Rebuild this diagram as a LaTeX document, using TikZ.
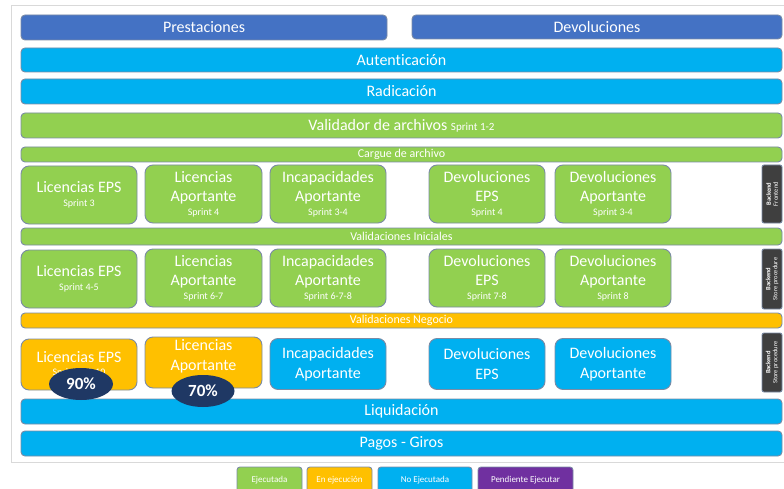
\documentclass[tikz,border=0pt]{standalone}
\usepackage{fontspec}
\setmainfont[Ligatures=NoCommon]{Carlito}
\usetikzlibrary{shapes.geometric}
\definecolor{tituloazul}{HTML}{4472C4}
\definecolor{noejec}{HTML}{00B0F0}
\definecolor{ejec}{HTML}{92D050}
\definecolor{enejec}{HTML}{FFC000}
\definecolor{pendiente}{HTML}{7030A0}
\definecolor{marino}{HTML}{1F3864}
\definecolor{borde}{HTML}{7B8BA5}
\definecolor{etiqueta}{HTML}{3F3F3F}
\newcommand{\sprintfont}{\fontsize{10}{12}\selectfont}

\begin{document}
\begin{tikzpicture}[x=1pt, y=-1pt, font=\fontsize{16}{19.5}\selectfont,
  bar/.style={draw=borde, line width=0.9pt, rounded corners=4pt, fill=#1,
              text=white, minimum width=761pt, minimum height=25pt,
              inner sep=0pt, align=center},
  modulo/.style={draw=borde, line width=0.9pt, rounded corners=8pt, fill=#1,
                 text=white, minimum width=116pt, minimum height=58pt,
                 inner sep=0pt, align=center},
  capa/.style={draw=borde, line width=0.9pt, rounded corners=2pt, fill=etiqueta,
               text=white, rotate=90, minimum height=20pt, inner sep=0pt,
               align=center, font=\fontsize{6.5}{7}\selectfont},
  avance/.style={ellipse, fill=marino, text=white, minimum width=64pt,
                 minimum height=32pt, inner sep=0pt,
                 font=\fontsize{17}{17}\selectfont\bfseries},
  leyenda/.style={draw=borde, line width=0.9pt, rounded corners=3pt, fill=#1,
                  text=white, minimum width=65pt, minimum height=26pt,
                  inner sep=0pt, font=\fontsize{9}{10}\selectfont}
]
  \useasboundingbox (0,0) rectangle (784,489);
  \draw[gray!30, line width=1pt] (784,6) -- (11,6) -- (11,462) -- (784,462);

  % encabezados y capas comunes
  \node[bar=tituloazul, minimum width=366pt] (prest) at (204,27.5) {Prestaciones};
  \node[bar=tituloazul, minimum width=370pt, minimum height=24pt] (devol) at (597,27) {Devoluciones};
  \node[bar=noejec, minimum height=24pt] (auten) at (401.5,60) {Autenticación};
  \node[bar=noejec] (radic) at (401.5,91.5) {Radicación};
  \node[bar=ejec] (valid) at (401.5,125.5)
        {Validador de archivos {\fontsize{11}{12}\selectfont Sprint 1-2}};
  \node[bar=ejec, minimum height=15pt, font=\fontsize{12}{12}\selectfont] (cargue)
        at (401.5,154.5) {Cargue de archivo};

  % cargue de archivo
  \node[modulo=ejec] (licEps1) at (79,195) {Licencias EPS\\[-6pt]{\sprintfont Sprint 3}};
  \node[modulo=ejec, minimum width=117pt] (licApo1) at (203.5,194)
        {Licencias\\Aportante\\[-6pt]{\sprintfont Sprint 4}};
  \node[modulo=ejec] (incApo1) at (328,194) {Incapacidades\\Aportante\\[-6pt]{\sprintfont Sprint 3-4}};
  \node[modulo=ejec] (devEps1) at (487,194) {Devoluciones\\EPS\\[-6pt]{\sprintfont Sprint 4}};
  \node[modulo=ejec] (devApo1) at (613,194) {Devoluciones\\Aportante\\[-6pt]{\sprintfont Sprint 3-4}};
  \node[capa, minimum width=58pt] (capa1) at (772,194) {\textbf{Backend}\\Frontend};

  % validaciones iniciales
  \node[bar=ejec, minimum height=17pt, font=\fontsize{12}{12}\selectfont] (inic)
        at (401.5,236.5) {Validaciones Iniciales};
  \node[modulo=ejec] (licEps2) at (79,279) {Licencias EPS\\[-6pt]{\sprintfont Sprint 4-5}};
  \node[modulo=ejec, minimum width=117pt] (licApo2) at (203.5,278)
        {Licencias\\Aportante\\[-6pt]{\sprintfont Sprint 6-7}};
  \node[modulo=ejec] (incApo2) at (328,278) {Incapacidades\\Aportante\\[-6pt]{\sprintfont Sprint 6-7-8}};
  \node[modulo=ejec] (devEps2) at (487,278) {Devoluciones\\EPS\\[-6pt]{\sprintfont Sprint 7-8}};
  \node[modulo=ejec] (devApo2) at (613,278) {Devoluciones\\Aportante\\[-6pt]{\sprintfont Sprint 8}};
  \node[capa, minimum width=60pt] (capa2) at (772,279) {\textbf{Backend}\\Store procedure};

  % validaciones negocio
  \node[bar=enejec, minimum height=15pt, font=\fontsize{12}{12}\selectfont] (nego)
        at (401.5,320.5) {Validaciones Negocio};
  \node[modulo=enejec, minimum height=51pt] (licEps3) at (79,364.5)
        {Licencias EPS\\[-6pt]{\sprintfont Sprint 8-9-10}};
  \node[modulo=enejec, minimum width=117pt, minimum height=51pt] (licApo3) at (203.5,362.5)
        {Licencias\\Aportante\\[-8pt]{\sprintfont\strut}};
  \node[modulo=noejec, minimum height=51pt] (incApo3) at (328,364) {Incapacidades\\Aportante};
  \node[modulo=noejec, minimum height=51pt] (devEps3) at (487,364) {Devoluciones\\EPS};
  \node[modulo=noejec, minimum height=51pt] (devApo3) at (613,364) {Devoluciones\\Aportante};
  \node[capa, minimum width=59pt] (capa3) at (772,362.5) {\textbf{Backend}\\Store procedure};

  % liquidacion y pagos
  \node[bar=noejec] (liqui) at (401.5,411.5) {Liquidación};
  \node[bar=noejec] (pagos) at (401.5,443.5) {Pagos - Giros};

  \node[avance] (av90) at (81,384) {90\%};
  \node[avance, minimum width=63pt] (av70) at (203,391) {70\%};

  % convenciones
  \node[leyenda=ejec] (lEjec) at (269.5,480) {Ejecutada};
  \node[leyenda=enejec] (lEnEjec) at (339.5,480) {En ejecución};
  \node[leyenda=noejec, minimum width=94pt] (lNoEjec) at (425,480) {No Ejecutada};
  \node[leyenda=pendiente, minimum width=95pt] (lPend) at (525.5,480) {Pendiente Ejecutar};
\end{tikzpicture}
\end{document}
